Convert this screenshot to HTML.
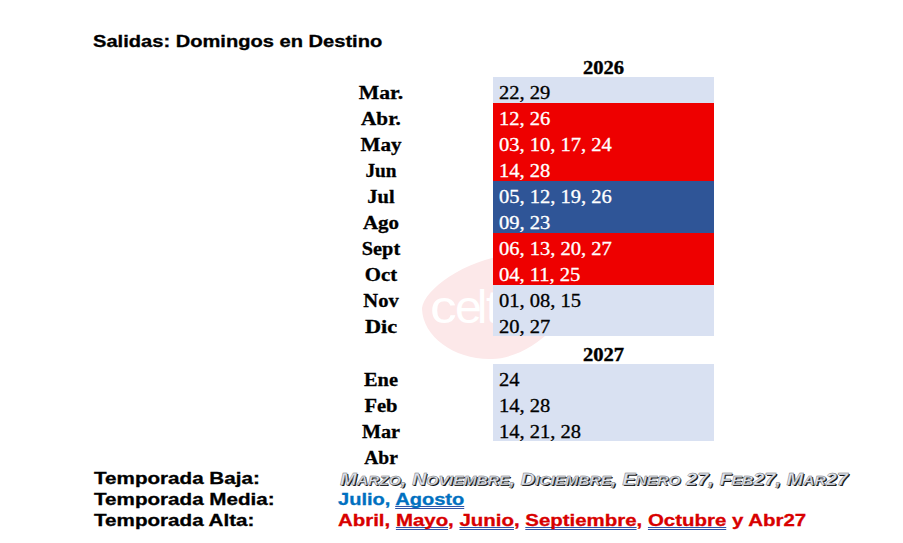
<!DOCTYPE html>
<html><head><meta charset="utf-8">
<style>
html,body{margin:0;padding:0;background:#fff;}
body{width:903px;height:543px;position:relative;overflow:hidden;font-family:"Liberation Sans",sans-serif;}
.a{position:absolute;white-space:nowrap;}
.sx{transform-origin:0 0;}
.title{left:93px;top:33px;font-size:16.5px;line-height:17px;font-weight:bold;color:#000;transform:scaleX(1.218);transform-origin:0 0;-webkit-text-stroke:0.3px #000;}
.yr{left:493px;width:221px;text-align:center;font-size:19.3px;line-height:19px;font-weight:bold;font-family:"Liberation Serif",serif;transform:scaleX(1.066);transform-origin:603.5px 0;left:0;width:1207px;-webkit-text-stroke:0.4px #000;}
.m{left:281px;width:200px;text-align:center;font-family:"Liberation Serif",serif;font-weight:bold;font-size:19.3px;line-height:19px;transform:scaleX(1.1);-webkit-text-stroke:0.3px #000;}
.c{left:493px;width:221px;height:26px;}
.lb{background:#d9e1f2;}
.rd{background:#ee0000;}
.bl{background:#2f5597;}
.d{left:499px;font-family:"Liberation Serif",serif;font-size:18px;line-height:18px;color:#000;transform:scaleX(1.14);margin-top:-0.5px;transform-origin:0 0;-webkit-text-stroke:0.3px currentColor;}
.w{color:#fff;}
.lab{left:93.5px;font-weight:bold;font-size:16.5px;line-height:17px;color:#000;transform:scaleX(1.25);transform-origin:0 0;-webkit-text-stroke:0.3px #000;}
.v{left:338px;font-weight:bold;font-size:16.5px;line-height:17px;transform:scaleX(1.238);transform-origin:0 0;}
.blue{color:#0070c0;-webkit-text-stroke:0.3px #0070c0;}
.red{color:#d80000;-webkit-text-stroke:0.3px #d80000;}
.u{text-decoration:underline double #2f54a8;text-decoration-thickness:1px;text-underline-offset:1px;text-decoration-skip-ink:none;}
.wa{font-style:italic;color:#dde4f0;-webkit-text-stroke:0.4px #707070;text-shadow:1px 1px 0 #111;}
.wa i{font-size:0.78em;}
</style></head><body>
<svg class="a" style="left:0;top:0" width="903" height="543">
  <path d="M422 308 C424 290 464 260 510 254.5 C545 249 578 262 575 290 C570 320 530 358 492 359 C455 360 423 337 422 309 Z" fill="#fce8e9"/>
  <g font-family="Liberation Sans" font-size="46" fill="#fff">
    <text transform="translate(430 323) scale(1.16 1)">c</text>
    <text transform="translate(455 323) scale(1.05 1)">e</text>
    <text x="477" y="323">l</text>
    <text x="486" y="323">t</text>
  </g>
</svg>
<div class="a title">Salidas: Domingos en Destino</div>
<div class="a yr" style="top:57.5px">2026</div>

<div class="a c lb" style="top:77px"></div>
<div class="a c rd" style="top:103px;height:78px"></div>
<div class="a c bl" style="top:181px;height:52px"></div>
<div class="a c rd" style="top:233px;height:52px"></div>
<div class="a c lb" style="top:285px;height:51px"></div>

<div class="a m" style="top:83px;transform:scaleX(1.125)">Mar.</div>
<div class="a m" style="top:109px;transform:scaleX(1.1)">Abr.</div>
<div class="a m" style="top:135px;transform:scaleX(1.095)">May</div>
<div class="a m" style="top:161px;transform:scaleX(1.0)">Jun</div>
<div class="a m" style="top:187px;transform:scaleX(1.06)">Jul</div>
<div class="a m" style="top:213px;transform:scaleX(1.088)">Ago</div>
<div class="a m" style="top:239px;transform:scaleX(1.053)">Sept</div>
<div class="a m" style="top:265px;transform:scaleX(1.077)">Oct</div>
<div class="a m" style="top:291px;transform:scaleX(1.067)">Nov</div>
<div class="a m" style="top:317px;transform:scaleX(1.155)">Dic</div>

<div class="a d" style="top:84px">22, 29</div>
<div class="a d w" style="top:110px">12, 26</div>
<div class="a d w" style="top:136px">03, 10, 17, 24</div>
<div class="a d w" style="top:162px">14, 28</div>
<div class="a d w" style="top:188px">05, 12, 19, 26</div>
<div class="a d w" style="top:214px">09, 23</div>
<div class="a d w" style="top:240px">06, 13, 20, 27</div>
<div class="a d w" style="top:266px">04, 11, 25</div>
<div class="a d" style="top:292px">01, 08, 15</div>
<div class="a d" style="top:318px">20, 27</div>

<div class="a yr" style="top:344.5px">2027</div>
<div class="a c lb" style="top:364px;height:77px"></div>
<div class="a m" style="top:370px;transform:scaleX(1.057)">Ene</div>
<div class="a m" style="top:396px;transform:scaleX(1.065)">Feb</div>
<div class="a m" style="top:422px;transform:scaleX(1.047)">Mar</div>
<div class="a m" style="top:448px;transform:scaleX(1.014)">Abr</div>
<div class="a d" style="top:371px">24</div>
<div class="a d" style="top:397px">14, 28</div>
<div class="a d" style="top:423px">14, 21, 28</div>

<div class="a lab" style="top:470px">Temporada Baja:</div>
<div class="a lab" style="top:491px">Temporada Media:</div>
<div class="a lab" style="top:512px">Temporada Alta:</div>

<div class="a v wa" style="top:471px;left:340px;transform:scaleX(1.211)">M<i>ARZO</i>, N<i>OVIEMBRE</i>, D<i>ICIEMBRE</i>, E<i>NERO</i> 27, F<i>EB</i>27, M<i>AR</i>27</div>
<div class="a v blue" style="top:491px;transform:scaleX(1.215)">Julio, <span class="u">Agosto</span></div>
<div class="a v red" style="top:512px">Abril, <span class="u">Mayo</span>, <span class="u">Junio</span>, <span class="u">Septiembre</span>, <span class="u">Octubre</span> y Abr27</div>
</body></html>
